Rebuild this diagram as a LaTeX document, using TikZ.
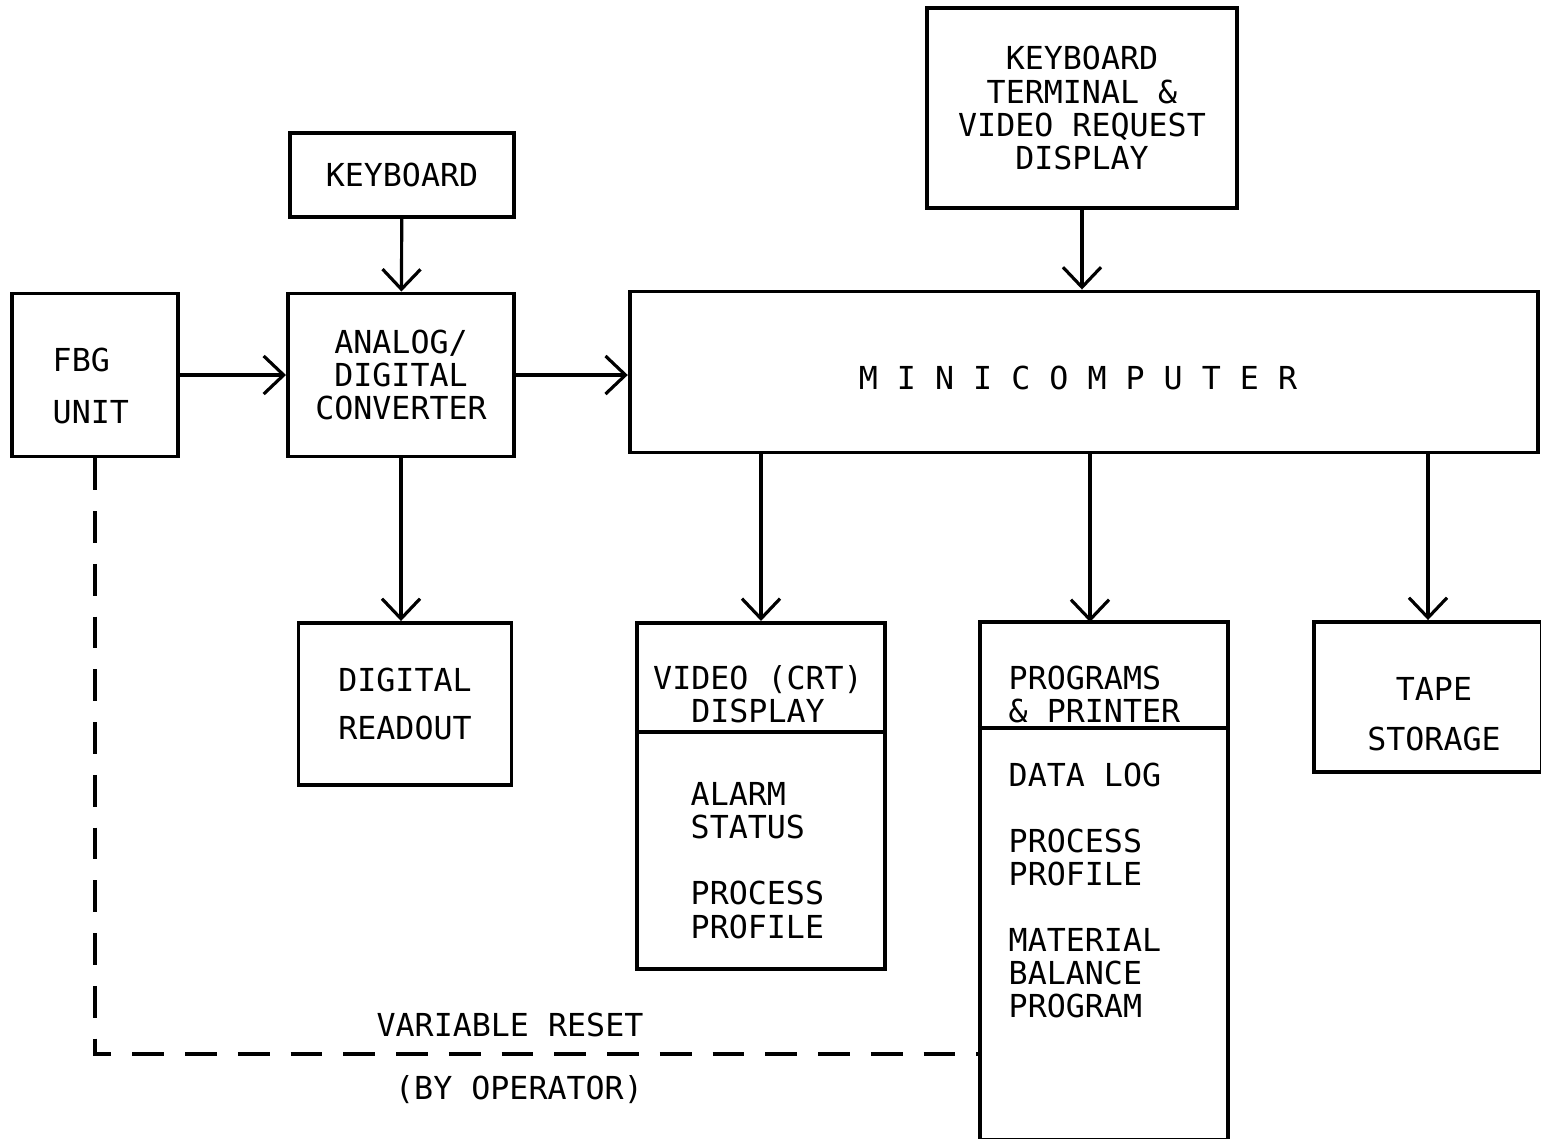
\documentclass[tikz,border=0pt]{standalone}
\usepackage{fontspec}
\usetikzlibrary{arrows.meta,positioning}
\newfontfamily\typefont{DejaVu Sans Mono}

\begin{document}
\begin{tikzpicture}[x=0.01cm,y=-0.01cm,
  >={Straight Barb[length=2mm,width=3.8mm]},
  every node/.style={font=\typefont\fontsize{9}{9.4}\selectfont},
  blk/.style={draw,line width=1.1pt,inner sep=0pt,align=center},
  flow/.style={->,line width=0.9pt},
  txt/.style={inner sep=0pt,align=left,anchor=north west},
  reset/.style={line width=1.1pt,dash pattern=on 9pt off 6pt}]
  \useasboundingbox (0,0) rectangle (1541,1138);

  % top row
  \node[blk,minimum width=3.10cm,minimum height=2.00cm] (kbt) at (1082,108)
    {KEYBOARD\\TERMINAL \&\\VIDEO REQUEST\\DISPLAY};
  \node[blk,minimum width=2.24cm,minimum height=0.84cm] (kbd) at (402,175) {KEYBOARD};

  % middle row
  \node[blk,minimum width=1.66cm,minimum height=1.63cm] (fbg) at (95,375) {};
  \node[txt] (fbgtxt) at (52,347) {FBG\\[5.5pt]UNIT};
  \node[blk,minimum width=2.26cm,minimum height=1.63cm] (adc) at (401,375)
    {ANALOG/\\DIGITAL\\CONVERTER};
  \node[blk,minimum width=9.08cm,minimum height=1.61cm] (mini) at (1084,372) {};
  \node[inner sep=0pt] (minitxt) at (1078,378) {M I N I C O M P U T E R};

  % bottom row
  \node[blk,minimum width=2.13cm,minimum height=1.62cm] (rd) at (405,704)
    {DIGITAL\\[4.2pt]READOUT};
  \node[blk,minimum width=2.48cm,minimum height=3.46cm] (vid) at (761,796) {};
  \node[blk,minimum width=2.48cm,minimum height=5.18cm] (prg) at (1104,881) {};
  \node[blk,minimum width=2.28cm,minimum height=1.50cm] (tape) at (1428,697) {};
  \node[inner sep=0pt,align=center] (tapetxt) at (1434,714) {TAPE\\[4.8pt]STORAGE};

  % split boxes
  \draw[line width=1.1pt] (vid.west |- 0,732) -- (vid.east |- 0,732);
  \draw[line width=1.1pt] (prg.west |- 0,728) -- (prg.east |- 0,728);
  \node[inner sep=0pt,align=center] (vidhead) at (758,694) {VIDEO (CRT)\\DISPLAY};
  \node[txt] (vidlist) at (690,782) {ALARM\\STATUS\\[9.4pt]PROCESS\\PROFILE};
  \node[txt] (prghead) at (1008,665) {PROGRAMS\\\& PRINTER};
  \node[txt] (prglist) at (1008,762)
    {DATA LOG\\[9.4pt]PROCESS\\PROFILE\\[9.4pt]MATERIAL\\BALANCE\\PROGRAM};

  % signal flow
  \coordinate (prgin) at (1090,622);
  \draw[flow] (kbd) -- (adc);
  \draw[flow] (fbg) -- (adc);
  \draw[flow] (adc.east) -- (adc.east -| mini.west);
  \draw[flow] (kbt.south) -- (kbt.south |- mini.north);
  \draw[flow] (adc.south) -- (adc.south |- rd.north);
  \draw[flow] (vid.north |- mini.south) -- (vid);
  \draw[flow] (prgin |- mini.south) -- (prgin);
  \draw[flow] (tape.north |- mini.south) -- (tape);

  % operator reset
  \coordinate (rst) at (980,1054);
  \draw[reset] (fbg.south) -- (fbg.south |- rst) -- (rst);
  \node (vrlbl) at (510,1025) {VARIABLE RESET};
  \node (oplbl) at (519,1090) {(BY OPERATOR)};
\end{tikzpicture}
\end{document}
